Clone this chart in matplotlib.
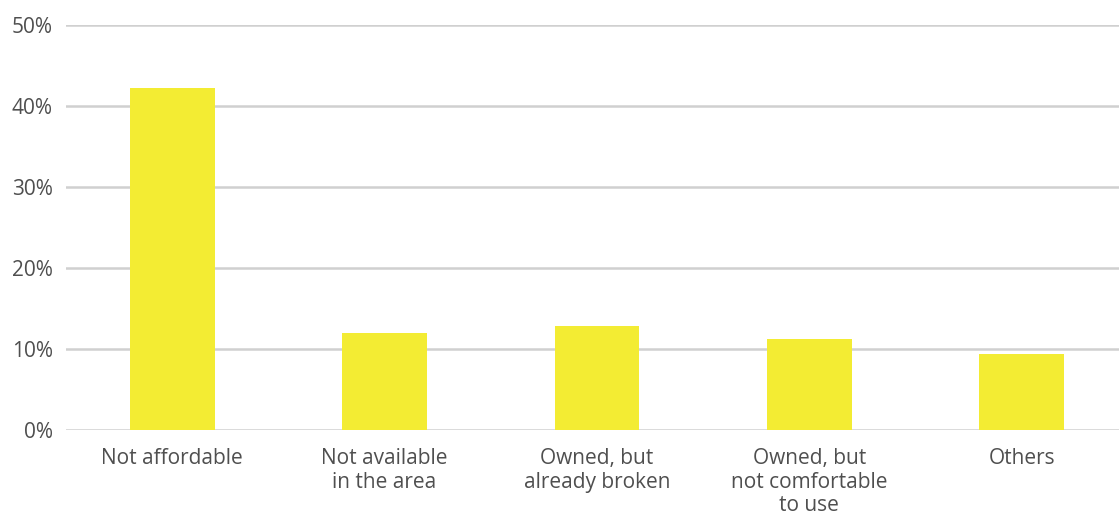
import matplotlib.pyplot as plt

# reasons for not using the product, share of respondents (%)
categories = ['Not affordable', 'Not available\nin the area', 'Owned, but\nalready broken',
              'Owned, but\nnot comfortable\nto use', 'Others']
shares = [42.2, 12.0, 12.9, 11.2, 9.4]
y_ticks = [0, 10, 20, 30, 40, 50]

plt.rcParams['font.family'] = ['Open Sans', 'DejaVu Sans']

fig = plt.figure(figsize=(11.19, 5.16), dpi=100)
ax = fig.add_axes([66 / 1119, 1 - 430 / 516, 1062 / 1119, 405 / 516])

x = range(len(categories))
ax.bar(x, shares, width=0.4, color='#f3ec33', zorder=3)

ax.set_xlim(-0.5, len(categories) - 0.5)
ax.set_ylim(0, 50)
ax.set_yticks(y_ticks)
ax.set_yticklabels([f'{t}%' for t in y_ticks])
ax.set_xticks(list(x))
ax.set_xticklabels(categories, linespacing=1.17)

ax.grid(axis='y', color='#d0d0d0', linewidth=1.8, zorder=0)
for s in ax.spines.values():
    s.set_visible(False)
ax.tick_params(axis='both', length=0, labelsize=15, labelcolor='#4f4f4f')
ax.tick_params(axis='y', pad=9.5)
ax.tick_params(axis='x', pad=13)

fig.savefig('out.png', dpi=100)
